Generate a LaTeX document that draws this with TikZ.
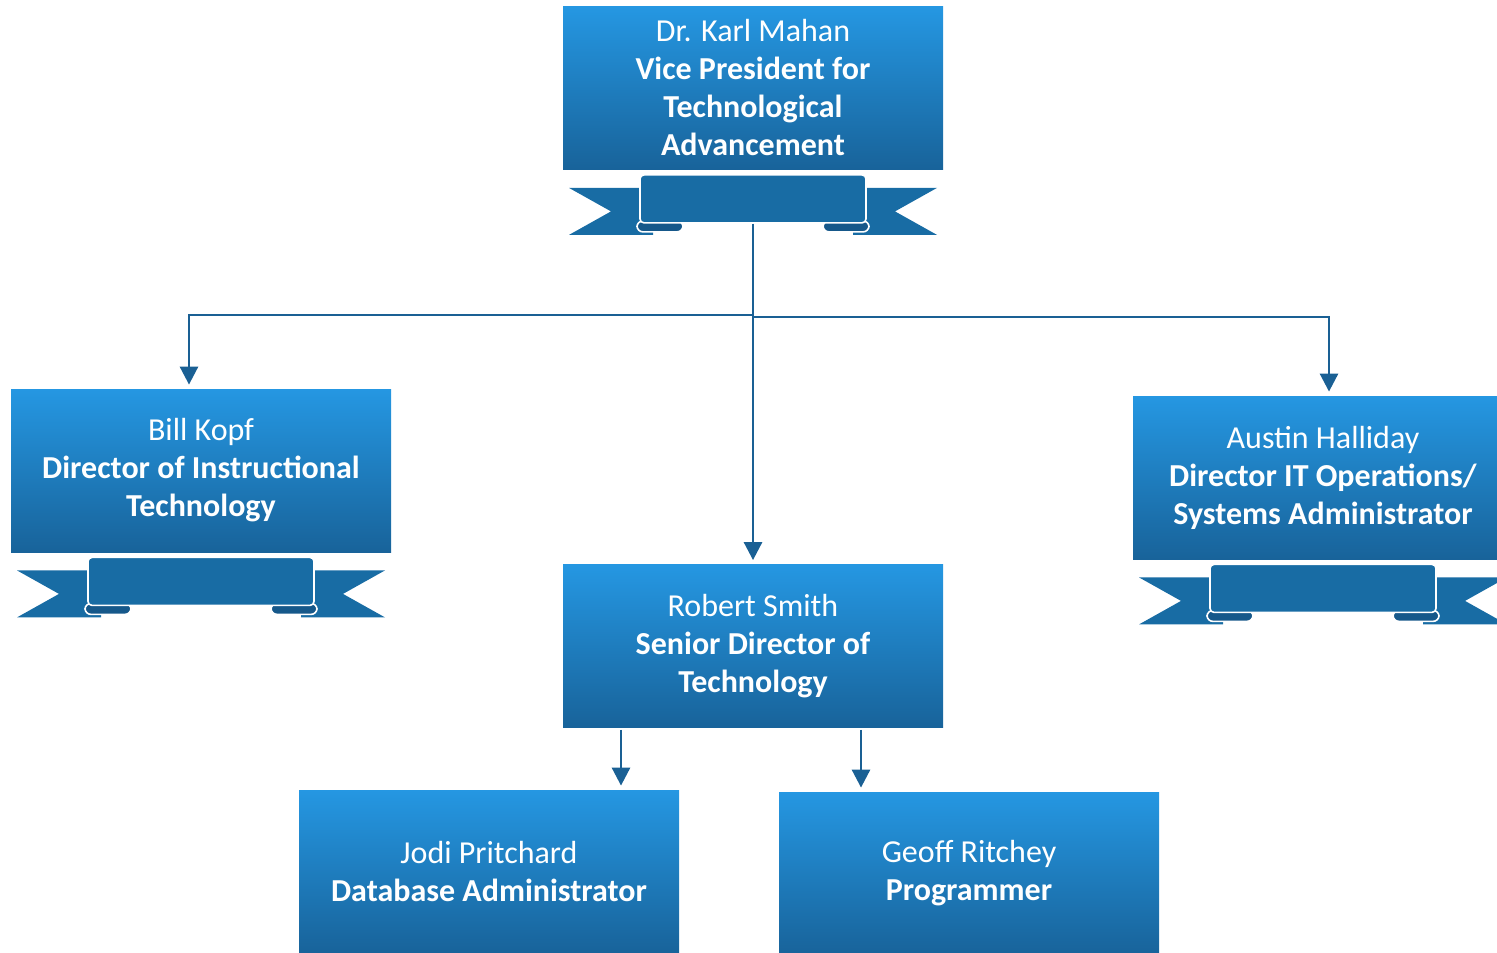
\documentclass[tikz,border=0pt]{standalone}
\usepackage{fontspec}
\setmainfont{Carlito}
\usetikzlibrary{arrows.meta}
\definecolor{boxtop}{RGB}{37,151,226}
\definecolor{boxbot}{RGB}{24,99,154}
\definecolor{ribbon}{RGB}{24,108,164}
\definecolor{folddark}{RGB}{22,88,138}
\definecolor{linkcol}{RGB}{26,96,148}
\tikzset{
  chartbox/.style={minimum width=190pt, minimum height=81.5pt, inner sep=0pt,
    top color=boxtop, bottom color=boxbot, text=white, align=center,
    font=\fontsize{16}{19}\selectfont},
  band/.style={minimum width=113pt, minimum height=24pt, inner sep=0pt,
    fill=ribbon, draw=white, line width=0.8pt, rounded corners=2pt},
  fold/.style={fill=folddark, draw=white, line width=0.8pt, rounded corners=3pt},
  link/.style={draw=linkcol, line width=1.4pt, shorten >=2pt,
    -{Triangle[length=9pt,width=9pt]}},
  banner/.pic={
    % tails behind the band
    \fill[ribbon] (-184,18) -- (-100,18) -- (-100,65) -- (-184,65) -- (-142,41.5) -- cycle;
    \fill[ribbon] (184,18) -- (100,18) -- (100,65) -- (184,65) -- (142,41.5) -- cycle;
    % rolled ends
    \draw[fold] (-116,51) rectangle (-70,62);
    \draw[fold] (116,51) rectangle (70,62);
    % front of the band
    \node[band] (-band) at (0,29) {};
  }
}
\begin{document}
\begin{tikzpicture}[x=0.5pt,y=-0.5pt]
  \useasboundingbox (0,0) rectangle (1497,952);
  \clip (0,0) rectangle (1497,952);

  % Boxes
  \node[chartbox] (vp) at (753,88)
    {Dr. Karl Mahan\\\textbf{Vice President for}\\\textbf{Technological}\\\textbf{Advancement}};
  \node[chartbox] (bill) at (201,470.5)
    {Bill Kopf\\\textbf{Director of Instructional}\\\textbf{Technology}};
  \node[chartbox] (austin) at (1323,477.5)
    {Austin Halliday\\\textbf{Director IT Operations/}\\\textbf{Systems Administrator}};
  \node[chartbox] (robert) at (753,646)
    {Robert Smith\\\textbf{Senior Director of}\\\textbf{Technology}};
  \node[chartbox] (jodi) at (489,871.5)
    {Jodi Pritchard\\\textbf{Database Administrator}};
  \node[chartbox] (geoff) at (969,873.5)
    {Geoff Ritchey\\\textbf{Programmer}};

  % Ribbons under the boxes
  \pic (vpr) at (vp.south) {banner};
  \pic (billr) at (bill.south) {banner};
  \pic (austinr) at (austin.south) {banner};

  % Connectors
  \coordinate (hubL) at (753,315);
  \coordinate (hubR) at (753,317);
  \draw[link] (vpr-band.south) -- (robert.north);
  \draw[link] (hubL) -| ([xshift=-6pt]bill.north);
  \draw[link] (hubR) -| ([xshift=3pt]austin.north);
  \draw[link] ([xshift=-66pt,yshift=-1pt]robert.south) -- ([xshift=66pt]jodi.north);
  \draw[link] ([xshift=54pt,yshift=-1pt]robert.south) -- ([xshift=-54pt]geoff.north);
\end{tikzpicture}
\end{document}
